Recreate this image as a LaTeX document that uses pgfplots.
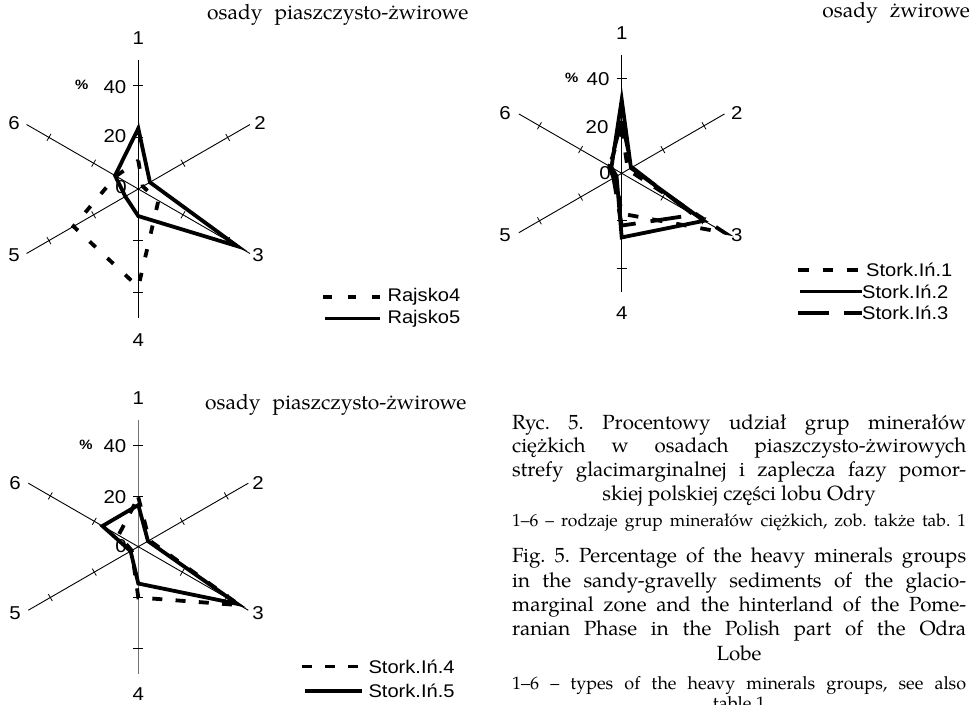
\documentclass[border=0pt]{standalone}
\usepackage{fontspec}
\setmainfont{TeX Gyre Pagella}
\newfontfamily\sans[FakeStretch=1.1]{Liberation Sans}
\usepackage{pgfplots}
\pgfplotsset{compat=1.18}
\usepgfplotslibrary{polar}
\frenchspacing

\tikzset{
 axl/.style={line width=0.9pt, black},
 tk/.style={line width=0.8pt, black},
 lab/.style={font=\sans\fontsize{18.6}{20}\selectfont, inner sep=0pt},
 pct/.style={font=\sans\bfseries\fontsize{13.5}{16}\selectfont, inner sep=0pt},
 leg/.style={font=\sans\fontsize{18.3}{20}\selectfont, inner sep=0pt, anchor=west},
 ttl/.style={font=\fontsize{21}{24}\selectfont, inner sep=0pt},
 captxt/.style={font=\fontsize{20.5}{24}\selectfont, inner sep=0pt, anchor=mid west},
 captxtr/.style={font=\fontsize{17.5}{20}\selectfont, inner sep=0pt, anchor=mid west},
 captxts/.style={font=\fontsize{18}{21}\selectfont, inner sep=0pt, anchor=mid west},
 solidl/.style={line width=3.8pt, black},
 sdashA/.style={line width=3.8pt, black, dash pattern=on 8.3pt off 16pt},
 sdashB/.style={line width=3.8pt, black, dash pattern=on 10.5pt off 14pt},
 sdashC/.style={line width=3.8pt, black, dash pattern=on 10pt off 13.3pt},
 ldash/.style={line width=3.8pt, black, dash pattern=on 31pt off 15pt},
}

% #1 x, #2 y, #3 unit, #4 colour of the vertical spoke
\newcommand{\radarframe}[4]{%
 \begin{scope}[shift={(#1pt,#2pt)}]
  \draw[line width=1.2pt, #4] (90:50*#3pt) -- (270:50*#3pt);
  \draw[axl] (30:50*#3pt) -- (210:50*#3pt);
  \draw[axl] (150:50*#3pt) -- (330:50*#3pt);
  \foreach \a in {30,150,210,330}{\foreach \r in {20,40}{\draw[tk] (\a:\r*#3pt) ++(\a+90:4pt) -- ++(\a-90:8pt);}}
  \foreach \a in {90,270}{\foreach \r in {20,40}{\draw[tk] (\a:\r*#3pt) ++(180:5pt) -- ++(0:10pt);}}
 \end{scope}}

\pgfplotsset{radar/.style={anchor=center, xmin=-50, xmax=50, ymin=-50, ymax=50, hide axis, clip=false}}

\begin{document}
\begin{tikzpicture}
\useasboundingbox (0pt,0pt) rectangle (976pt,-704pt);

% ---------------- chart 1 ----------------
\radarframe{138.3}{-189}{2.58}{black}
\begin{axis}[radar, at={(138.3pt,-189pt)}, x=2.58pt, y=2.58pt]
\addplot[sdashA, data cs=polar] coordinates {(90,11) (30,2) (-30,9) (-90,38) (-150,29) (150,10)} -- cycle;
\addplot[solidl, data cs=polar] coordinates {(90,23.5) (30,5.2) (-30,44.3) (-90,10.5) (-150,5.8) (150,10.4)} -- cycle;
\end{axis}
\node[lab] at (138.3pt,-38pt) {1};
\node[lab] at (260pt,-123pt) {2};
\node[lab] at (258pt,-255pt) {3};
\node[lab] at (138.3pt,-340pt) {4};
\node[lab] at (14pt,-255pt) {5};
\node[lab] at (14pt,-123pt) {6};
\node[pct] at (81.7pt,-85pt) {\%};
\node[lab] at (115pt,-87pt) {40};
\node[lab] at (115pt,-136pt) {20};
\node[lab] at (121pt,-187.5pt) {0};
\node[ttl, anchor=mid west] at (207pt,-17pt) {osady\hspace{12pt}piaszczysto-żwirowe};
\draw[sdashA] (323.3pt,-296.7pt) -- (380pt,-296.7pt);
\node[leg] at (387.3pt,-296.7pt) {Rajsko4};
\draw[solidl] (325pt,-318.5pt) -- (380pt,-318.5pt);
\node[leg] at (387.3pt,-318.5pt) {Rajsko5};

% ---------------- chart 2 ----------------
\radarframe{621.7}{-173.3}{2.375}{black}
\begin{axis}[radar, at={(621.7pt,-173.3pt)}, x=2.375pt, y=2.375pt]
\addplot[sdashB, data cs=polar] coordinates {(90,19) (30,3) (-30,50) (-90,17) (-150,3) (150,6)} -- cycle;
\addplot[solidl, data cs=polar] coordinates {(90,31) (30,4.5) (-30,40) (-90,27) (-150,2.5) (150,5)} -- cycle;
\addplot[ldash, data cs=polar] coordinates {(90,22) (30,5) (-30,35) (-90,22) (-150,4) (150,6)} -- cycle;
\end{axis}
\node[lab] at (621.7pt,-32.7pt) {1};
\node[lab] at (736.7pt,-113pt) {2};
\node[lab] at (736.7pt,-235pt) {3};
\node[lab] at (621.7pt,-313pt) {4};
\node[lab] at (505pt,-235pt) {5};
\node[lab] at (505pt,-113pt) {6};
\node[pct] at (571.7pt,-78pt) {\%};
\node[lab] at (598pt,-79pt) {40};
\node[lab] at (597pt,-126.7pt) {20};
\node[lab] at (605pt,-173pt) {0};
\node[ttl, anchor=mid east] at (970pt,-15pt) {osady\hspace{12pt}żwirowe};
\draw[sdashB] (798.3pt,-270pt) -- (858pt,-270pt);
\node[leg] at (866pt,-270pt) {Stork.Iń.1};
\draw[solidl] (800pt,-291.5pt) -- (862pt,-291.5pt);
\node[leg] at (862pt,-291.5pt) {Stork.Iń.2};
\draw[ldash] (798.3pt,-313.3pt) -- (862pt,-313.3pt);
\node[leg] at (862pt,-313.3pt) {Stork.Iń.3};

% ---------------- chart 3 ----------------
\radarframe{138.3}{-546.7}{2.54}{black!55}
\begin{axis}[radar, at={(138.3pt,-546.7pt)}, x=2.54pt, y=2.54pt]
\addplot[sdashC, data cs=polar] coordinates {(90,19.5) (30,5) (-30,46) (-90,20) (-150,3) (150,9)} -- cycle;
\addplot[solidl, data cs=polar] coordinates {(90,16.4) (30,4.4) (-30,45) (-90,14.5) (-150,3.5) (150,16.3)} -- cycle;
\end{axis}
\node[lab] at (138.3pt,-398pt) {1};
\node[lab] at (258pt,-483pt) {2};
\node[lab] at (258pt,-613pt) {3};
\node[lab] at (138.3pt,-694pt) {4};
\node[lab] at (15pt,-613pt) {5};
\node[lab] at (15pt,-483pt) {6};
\node[pct] at (86pt,-445pt) {\%};
\node[lab] at (115pt,-446pt) {40};
\node[lab] at (115pt,-497pt) {20};
\node[lab] at (121pt,-546pt) {0};
\node[ttl, anchor=mid west] at (205pt,-406.7pt) {osady\hspace{12pt}piaszczysto-żwirowe};
\draw[sdashC] (301.7pt,-666.5pt) -- (360pt,-666.5pt);
\node[leg] at (368.3pt,-666.5pt) {Stork.Iń.4};
\draw[solidl] (305pt,-691pt) -- (362pt,-691pt);
\node[leg] at (368.3pt,-691pt) {Stork.Iń.5};

% ---------------- caption ----------------
\node[captxt] at (512pt,-427.3pt) {\makebox[454pt][s]{Ryc. 5. Procentowy udział grup minerałów}};
\node[captxt] at (512pt,-450.5pt) {\makebox[454pt][s]{ciężkich w osadach piaszczysto-żwirowych}};
\node[captxt] at (512pt,-474pt) {\makebox[454pt][s]{strefy glacimarginalnej i zaplecza fazy pomor-}};
\node[captxt, anchor=mid] at (739pt,-498.5pt) {skiej polskiej części lobu Odry};
\node[captxtr] at (512pt,-524.5pt) {\makebox[454pt][s]{1–6 – rodzaje grup minerałów ciężkich, zob. także tab. 1}};
\node[captxt] at (512pt,-560pt) {\makebox[454pt][s]{Fig. 5. Percentage of the heavy minerals groups}};
\node[captxt] at (512pt,-585pt) {\makebox[454pt][s]{in the sandy-gravelly sediments of the glacio-}};
\node[captxt] at (512pt,-608.7pt) {\makebox[454pt][s]{marginal zone and the hinterland of the Pome-}};
\node[captxt] at (512pt,-633.5pt) {\makebox[454pt][s]{ranian Phase in the Polish part of the Odra}};
\node[captxt, anchor=mid] at (739pt,-658.5pt) {Lobe};
\node[captxts] at (512pt,-687.5pt) {\makebox[454pt][s]{1–6 – types of the heavy minerals groups, see also}};
\node[captxts, anchor=mid] at (739pt,-707.5pt) {table 1};
\end{tikzpicture}
\end{document}
